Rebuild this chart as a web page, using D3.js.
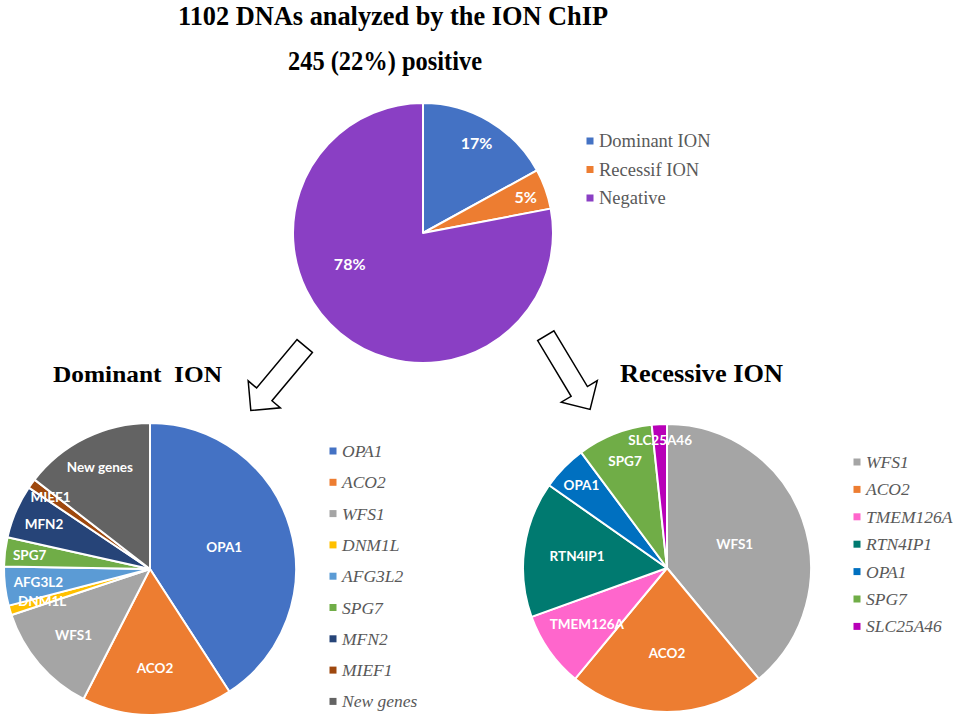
<!DOCTYPE html>
<html>
<head>
<meta charset="utf-8">
<script src="https://cdn.jsdelivr.net/npm/d3@7"></script>
<style>
  html, body { margin: 0; padding: 0; background: #fff; }
  svg { display: block; }
</style>
</head>
<body>
<svg id="chart" width="957" height="718"></svg>
<script>
// ---------- DATA ----------
const topCats = ["Dominant ION", "Recessif ION", "Negative"];
const topVals = [17, 5, 78];
const topColors = ["#4472C4", "#ED7D31", "#8A3FC4"];

const domCats = ["OPA1", "ACO2", "WFS1", "DNM1L", "AFG3L2", "SPG7", "MFN2", "MIEF1", "New genes"];
const domVals = [76, 31, 23, 2, 8, 6, 11, 2, 27];
const domColors = ["#4472C4", "#ED7D31", "#A5A5A5", "#FFC000", "#5B9BD5", "#70AD47", "#264478", "#9E480E", "#636363"];

const recCats = ["WFS1", "ACO2", "TMEM126A", "RTN4IP1", "OPA1", "SPG7", "SLC25A46"];
const recVals = [23, 13, 5, 9, 3, 5, 1];
const recColors = ["#A5A5A5", "#ED7D31", "#FF66CC", "#007A70", "#0070C0", "#70AD47", "#B800B8"];

// ---------- LAYOUT (label placement, as fraction of radius) ----------
const topLabelR = [0.81, 0.84, 0.61];
const topLabelShift = [0, 0, 28];       // degrees
const domLabelR = [0.53, 0.68, 0.69, 0.77, 0.77, 0.83, 0.79, 0.84, 0.78];
const recLabelR = [0.50, 0.59, 0.68, 0.63, 0.83, 0.80, 0.89];

const svg = d3.select("#chart");
svg.append("rect").attr("width", 957).attr("height", 718).attr("fill", "#fff");

const serif = "'Liberation Serif', 'Times New Roman', serif";
const sans = "Lato, 'Open Sans', sans-serif";

function drawPie(opt) {
  const g = svg.append("g").attr("transform", `translate(${opt.cx},${opt.cy})`);
  const pie = d3.pie().sort(null).value(d => d.v);
  const data = opt.cats.map((c, i) => ({ c, v: opt.vals[i], i }));
  const arcs = pie(data);
  const arc = d3.arc().innerRadius(0).outerRadius(opt.r);
  g.selectAll("path.slice").data(arcs).enter().append("path")
    .attr("class", "slice")
    .attr("d", arc)
    .attr("fill", d => opt.colors[d.data.i])
    .attr("stroke", "#fff")
    .attr("stroke-width", 2)
    .attr("stroke-linejoin", "round");
  const total = d3.sum(opt.vals);
  const ang = d => (d.startAngle + d.endAngle) / 2 + (opt.shift ? opt.shift[d.data.i] * Math.PI / 180 : 0);
  g.selectAll("text.lbl").data(arcs).enter().append("text")
    .attr("class", "lbl")
    .attr("x", d => opt.r * opt.labelR[d.data.i] * Math.sin(ang(d)))
    .attr("y", d => -opt.r * opt.labelR[d.data.i] * Math.cos(ang(d)))
    .attr("text-anchor", "middle")
    .attr("dominant-baseline", "central")
    .attr("fill", "#fff")
    .attr("font-family", sans)
    .attr("font-weight", "bold")
    .attr("font-size", opt.labelSize)
    .text(d => opt.labelText ? opt.labelText(d, total) : d.data.c);

  // legend
  const lg = svg.append("g").attr("transform", `translate(${opt.lx},${opt.ly})`);
  const items = lg.selectAll("g").data(data).enter().append("g")
    .attr("transform", (d, i) => `translate(0,${i * opt.lstep})`);
  items.append("rect")
    .attr("x", -3.5).attr("y", -3.5).attr("width", 7).attr("height", 7)
    .attr("fill", d => opt.colors[d.i]);
  items.append("text")
    .attr("x", 9).attr("y", 0)
    .attr("dominant-baseline", "central")
    .attr("fill", "#595959")
    .attr("font-family", serif)
    .attr("font-style", opt.italic ? "italic" : "normal")
    .attr("font-size", opt.lsize)
    .text(d => d.c);
}

drawPie({
  cx: 423, cy: 233, r: 130,
  cats: topCats, vals: topVals, colors: topColors,
  labelR: topLabelR, shift: topLabelShift, labelSize: 16,
  labelText: (d, total) => Math.round(d.data.v / total * 100) + "%",
  lx: 590, ly: 141, lstep: 28.5, lsize: 18.5, italic: false
});

drawPie({
  cx: 150, cy: 569, r: 146,
  cats: domCats, vals: domVals, colors: domColors,
  labelR: domLabelR, labelSize: 13.5,
  lx: 333, ly: 451, lstep: 31.3, lsize: 17.5, italic: true
});

drawPie({
  cx: 667, cy: 568, r: 144,
  cats: recCats, vals: recVals, colors: recColors,
  labelR: recLabelR, labelSize: 13.5,
  lx: 857, ly: 462, lstep: 27.4, lsize: 17.5, italic: true
});

// ---------- TITLES ----------
svg.append("text").attr("x", 178).attr("y", 25)
  .attr("font-family", serif).attr("font-weight", "bold").attr("font-size", 28)
  .attr("textLength", 430).attr("lengthAdjust", "spacingAndGlyphs")
  .attr("fill", "#000").text("1102 DNAs analyzed by the ION ChIP");
svg.append("text").attr("x", 288).attr("y", 70)
  .attr("font-family", serif).attr("font-weight", "bold").attr("font-size", 28)
  .attr("textLength", 194).attr("lengthAdjust", "spacingAndGlyphs")
  .attr("fill", "#000").text("245 (22%) positive");
svg.append("text").attr("x", 53).attr("y", 382)
  .attr("font-family", serif).attr("font-weight", "bold").attr("font-size", 24)
  .attr("textLength", 169).attr("lengthAdjust", "spacingAndGlyphs")
  .style("white-space", "pre")
  .attr("fill", "#000").text("Dominant  ION");
svg.append("text").attr("x", 620).attr("y", 382)
  .attr("font-family", serif).attr("font-weight", "bold").attr("font-size", 25)
  .attr("textLength", 163).attr("lengthAdjust", "spacingAndGlyphs")
  .attr("fill", "#000").text("Recessive ION");

// ---------- ARROWS ----------
function arrow(x, y, angleDeg, L, w, h, hl) {
  const pts = [[0, -w], [L - hl, -w], [L - hl, -h], [L, 0], [L - hl, h], [L - hl, w], [0, w]];
  svg.append("polygon")
    .attr("points", pts.map(p => p.join(",")).join(" "))
    .attr("transform", `translate(${x},${y}) rotate(${angleDeg})`)
    .attr("fill", "#fff").attr("stroke", "#000").attr("stroke-width", 1.5)
    .attr("stroke-linejoin", "miter");
}
arrow(304.7, 346, 129.9, 84, 10, 21, 21);
arrow(545.8, 335.7, 59, 86, 9.5, 21, 21);
</script>
</body>
</html>
